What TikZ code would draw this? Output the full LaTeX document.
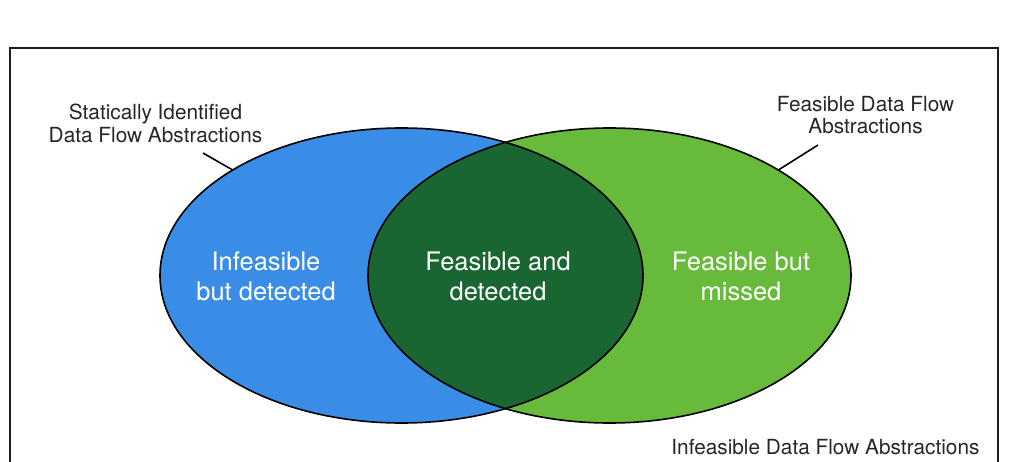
\documentclass[tikz,border=0pt]{standalone}
\usepackage{fontspec}
\setmainfont{TeX Gyre Heros}
\usetikzlibrary{shapes.geometric}
\definecolor{vblue}{RGB}{58,141,230}
\definecolor{vgreen}{RGB}{104,186,58}
\definecolor{vdark}{RGB}{26,102,50}
\definecolor{frame}{RGB}{30,30,30}
\begin{document}
\begin{tikzpicture}[x=1pt,y=-1pt,
  setshape/.style={ellipse, inner sep=0pt, outer sep=0pt, minimum width=483pt, minimum height=295pt},
  outline/.style={draw=black, line width=1.6pt},
  inlabel/.style={text=white, align=center, font=\fontsize{25.5}{30}\selectfont},
  outlabel/.style={text=black!85, align=center, font=\fontsize{20.8}{22.5}\selectfont},
  pointer/.style={draw=black, line width=1.6pt}]
\useasboundingbox (0,0) rectangle (1012,462);
% universe frame
\draw[frame, line width=2pt] (9.5,470) |- (998,48) -- (998,470);
% sets
\node[setshape, fill=vblue] (L) at (401.5,275.5) {};
\node[setshape, fill=vgreen] (R) at (609.5,275.5) {};
\begin{scope}
  \clip (401.5,275.5) ellipse [x radius=241.5, y radius=147.5];
  \fill[vdark] (609.5,275.5) ellipse [x radius=241.5, y radius=147.5];
\end{scope}
\draw[outline] (401.5,275.5) ellipse [x radius=241.5, y radius=147.5];
\draw[outline] (609.5,275.5) ellipse [x radius=241.5, y radius=147.5];
% region texts
\node[inlabel] (tL) at (266,276.5) {Infeasible\\but detected};
\node[inlabel] (tM) at (498,276.5) {Feasible and\\detected};
\node[inlabel] (tR) at (741,276.5) {Feasible but\\missed};
% outside labels
\node[outlabel] (lL) at (155.5,123.5) {Statically Identified\\Data Flow Abstractions};
\node[outlabel] (lR) at (865.5,115) {Feasible Data Flow\\Abstractions};
\node[outlabel, anchor=base east] (lU) at (983,454) {Infeasible Data Flow Abstractions};
% pointers
\coordinate (pL) at (203,153);
\coordinate (pR) at (818,145);
\draw[pointer] (pL) -- (L.148.6);
\draw[pointer] (pR) -- (R.32.4);
\end{tikzpicture}
\end{document}
